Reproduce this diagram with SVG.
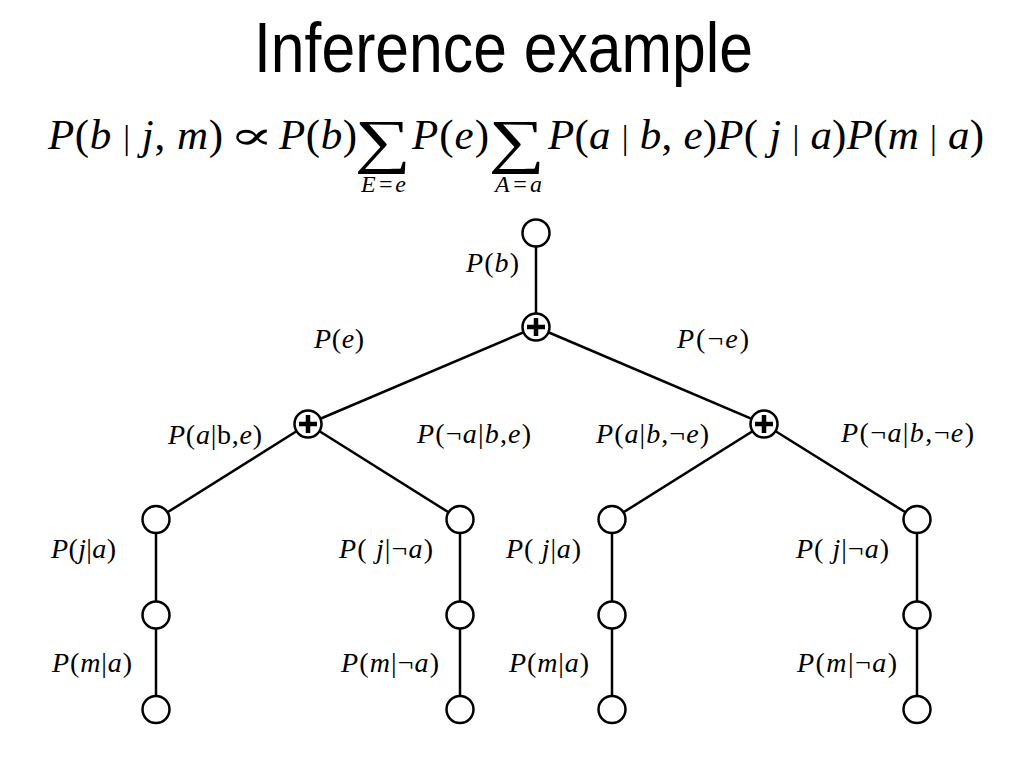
<svg xmlns="http://www.w3.org/2000/svg" width="1024" height="768" viewBox="0 0 1024 768">
<defs>
<style>
.title{font-family:"Liberation Sans",Arial,sans-serif;font-size:70px;fill:#000}
.f{font-family:"Liberation Serif","Times New Roman",serif;font-size:43px;fill:#000}
.bar{font-size:34px}
.sub{font-family:"Liberation Serif","Times New Roman",serif;font-size:24px;font-style:italic;fill:#000}
.sig{font-family:"Liberation Serif","DejaVu Serif",serif;font-size:60px;fill:#000}
.lbl{font-family:"Liberation Serif","Times New Roman",serif;font-size:28px;fill:#000}
.i{font-style:italic}
.node{fill:#fff;stroke:#000;stroke-width:2.5}
.edge{stroke:#000;stroke-width:2.5;fill:none}
.plus{stroke:#000;stroke-width:4.5;fill:none}
</style>
</defs>
<rect width="1024" height="768" fill="#fff"/>
<text class="title" x="254" y="72" textLength="499" lengthAdjust="spacingAndGlyphs">Inference example</text>
<g id="formula">
<text class="f" x="48" y="149" textLength="175"><tspan class="i">P</tspan>(<tspan class="i">b</tspan> <tspan class="bar">|</tspan> <tspan class="i">j</tspan>, <tspan class="i">m</tspan>)</text>
<text class="f" x="229" y="149" textLength="45" lengthAdjust="spacingAndGlyphs" style="font-family:'DejaVu Serif',serif;font-size:40px">∝</text>
<text class="f" x="279" y="149" textLength="78"><tspan class="i">P</tspan>(<tspan class="i">b</tspan>)</text>
<text class="sig" transform="translate(383,161) scale(1.32,1)" text-anchor="middle">∑</text>
<text class="f" x="412" y="149" textLength="77"><tspan class="i">P</tspan>(<tspan class="i">e</tspan>)</text>
<text class="sig" transform="translate(517,161) scale(1.32,1)" text-anchor="middle">∑</text>
<text class="f" x="548" y="149" textLength="436"><tspan class="i">P</tspan>(<tspan class="i">a</tspan> <tspan class="bar">|</tspan> <tspan class="i">b</tspan>, <tspan class="i">e</tspan>)<tspan class="i">P</tspan>( <tspan class="i">j</tspan> <tspan class="bar">|</tspan> <tspan class="i">a</tspan>)<tspan class="i">P</tspan>(<tspan class="i">m</tspan> <tspan class="bar">|</tspan> <tspan class="i">a</tspan>)</text>
<text class="sub" x="361" y="192" textLength="45">E=e</text>
<text class="sub" x="495" y="192" textLength="47">A=a</text>
</g>
<g id="connectors">
<line class="edge" x1="536" y1="233" x2="536" y2="327"/>
<line class="edge" x1="536" y1="327" x2="308" y2="424"/>
<line class="edge" x1="536" y1="327" x2="764" y2="424"/>
<line class="edge" x1="308" y1="424" x2="156" y2="519.5"/>
<line class="edge" x1="308" y1="424" x2="460" y2="519.5"/>
<line class="edge" x1="764" y1="424" x2="612" y2="519.5"/>
<line class="edge" x1="764" y1="424" x2="917" y2="519.5"/>
<line class="edge" x1="156" y1="519.5" x2="156" y2="709.5"/>
<line class="edge" x1="460" y1="519.5" x2="460" y2="709.5"/>
<line class="edge" x1="612" y1="519.5" x2="612" y2="709.5"/>
<line class="edge" x1="917" y1="519.5" x2="917" y2="709.5"/>
</g>
<g id="n-root"><circle class="node" cx="536" cy="233" r="13.5"/></g>
<g id="n-sum-b"><circle class="node" cx="536" cy="327" r="13.5"/><path class="plus" d="M527 327H545M536 318V336"/></g>
<g id="n-sum-e"><circle class="node" cx="308" cy="424" r="13.5"/><path class="plus" d="M299 424H317M308 415V433"/></g>
<g id="n-sum-ne"><circle class="node" cx="764" cy="424" r="13.5"/><path class="plus" d="M755 424H773M764 415V433"/></g>
<g id="n-a-e"><circle class="node" cx="156" cy="519.5" r="13.5"/></g>
<g id="n-j-a-e"><circle class="node" cx="156" cy="615" r="13.5"/></g>
<g id="n-m-a-e"><circle class="node" cx="156" cy="709.5" r="13.5"/></g>
<g id="n-na-e"><circle class="node" cx="460" cy="519.5" r="13.5"/></g>
<g id="n-j-na-e"><circle class="node" cx="460" cy="615" r="13.5"/></g>
<g id="n-m-na-e"><circle class="node" cx="460" cy="709.5" r="13.5"/></g>
<g id="n-a-ne"><circle class="node" cx="612" cy="519.5" r="13.5"/></g>
<g id="n-j-a-ne"><circle class="node" cx="612" cy="615" r="13.5"/></g>
<g id="n-m-a-ne"><circle class="node" cx="612" cy="709.5" r="13.5"/></g>
<g id="n-na-ne"><circle class="node" cx="917" cy="519.5" r="13.5"/></g>
<g id="n-j-na-ne"><circle class="node" cx="917" cy="615" r="13.5"/></g>
<g id="n-m-na-ne"><circle class="node" cx="917" cy="709.5" r="13.5"/></g>
<g id="labels">
<text class="lbl" x="466" y="272" textLength="53"><tspan class="i">P</tspan>(<tspan class="i">b</tspan>)</text>
<text class="lbl" x="314" y="348" textLength="50"><tspan class="i">P</tspan>(<tspan class="i">e</tspan>)</text>
<text class="lbl" x="677" y="348" textLength="72"><tspan class="i">P</tspan>(¬<tspan class="i">e</tspan>)</text>
<text class="lbl" x="168" y="444" textLength="94"><tspan class="i">P</tspan>(<tspan class="i">a</tspan>|b,<tspan class="i">e</tspan>)</text>
<text class="lbl" x="417" y="443" textLength="114"><tspan class="i">P</tspan>(¬<tspan class="i">a</tspan>|<tspan class="i">b</tspan>,<tspan class="i">e</tspan>)</text>
<text class="lbl" x="596" y="443" textLength="113"><tspan class="i">P</tspan>(<tspan class="i">a</tspan>|<tspan class="i">b</tspan>,¬<tspan class="i">e</tspan>)</text>
<text class="lbl" x="841" y="442" textLength="133"><tspan class="i">P</tspan>(¬<tspan class="i">a</tspan>|<tspan class="i">b</tspan>,¬<tspan class="i">e</tspan>)</text>
<text class="lbl" x="51" y="558" textLength="65"><tspan class="i">P</tspan>(<tspan class="i">j</tspan>|<tspan class="i">a</tspan>)</text>
<text class="lbl" x="339" y="558" textLength="94"><tspan class="i">P</tspan>( <tspan class="i">j</tspan>|¬<tspan class="i">a</tspan>)</text>
<text class="lbl" x="506" y="558" textLength="75"><tspan class="i">P</tspan>( <tspan class="i">j</tspan>|<tspan class="i">a</tspan>)</text>
<text class="lbl" x="796" y="558" textLength="93"><tspan class="i">P</tspan>( <tspan class="i">j</tspan>|¬<tspan class="i">a</tspan>)</text>
<text class="lbl" x="52" y="672" textLength="80"><tspan class="i">P</tspan>(<tspan class="i">m</tspan>|<tspan class="i">a</tspan>)</text>
<text class="lbl" x="341" y="672" textLength="98"><tspan class="i">P</tspan>(<tspan class="i">m</tspan>|¬<tspan class="i">a</tspan>)</text>
<text class="lbl" x="509" y="672" textLength="80"><tspan class="i">P</tspan>(<tspan class="i">m</tspan>|<tspan class="i">a</tspan>)</text>
<text class="lbl" x="797" y="672" textLength="100"><tspan class="i">P</tspan>(<tspan class="i">m</tspan>|¬<tspan class="i">a</tspan>)</text>
</g>
</svg>
